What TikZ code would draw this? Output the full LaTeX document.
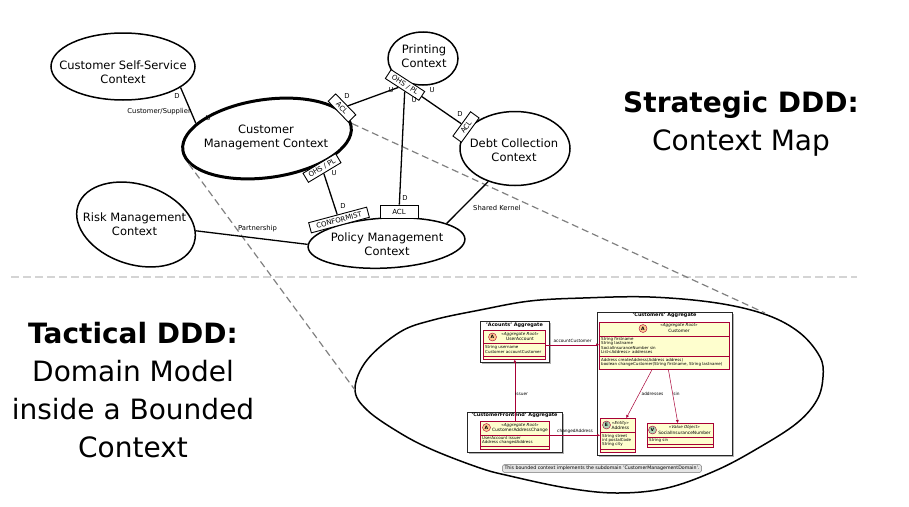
\documentclass[tikz,border=0pt]{standalone}
\usepackage{fontspec}
\setmainfont{DejaVu Sans}
\usetikzlibrary{calc,arrows.meta,shapes.geometric}
\definecolor{umlred}{HTML}{A80036}
\definecolor{umlfill}{HTML}{FEFECE}
\definecolor{spotA}{HTML}{FDC98F}
\definecolor{spotE}{HTML}{ADD1B2}
\begin{document}
\begin{tikzpicture}[x=1pt,y=-1pt,
  ctx/.style={ellipse, draw, line width=1.5pt, inner sep=0pt},
  ctxtext/.style={align=center, inner sep=0pt, font=\fontsize{11.5}{14}\selectfont},
  relbox/.style={draw, fill=white, line width=0.9pt, inner sep=0.5pt, minimum height=10.5, font=\fontsize{7}{8}\selectfont},
  rel/.style={line width=1.3pt},
  lbl/.style={inner sep=0pt, font=\fontsize{6.8}{8}\selectfont},
  zoomline/.style={draw=black!50, line width=1.2pt, dash pattern=on 7pt off 4pt},
  sepline/.style={draw=black!17, line width=1.6pt, dash pattern=on 8pt off 4pt},
  pkgline/.style={draw=black!85, line width=0.6pt, fill=white},
  pkgshadow/.style={fill=black!30},
  pkgtitle/.style={inner sep=0pt, font=\bfseries\fontsize{4.9}{5}\selectfont},
  cls/.style={rectangle, draw=umlred, fill=umlfill, line width=0.6pt, inner sep=0pt, anchor=north west},
  clssep/.style={draw=umlred, line width=0.5pt},
  spot/.style={circle, draw=umlred, line width=0.4pt, minimum size=8, inner sep=0pt, font=\bfseries\fontsize{4.6}{5}\selectfont},
  stereo/.style={inner sep=0pt, font=\itshape\fontsize{4.1}{4.5}\selectfont},
  cname/.style={inner sep=0pt, font=\fontsize{4.4}{4.8}\selectfont},
  attr/.style={inner sep=0pt, anchor=west, font=\fontsize{4}{4.4}\selectfont},
  alabel/.style={inner sep=0pt, font=\fontsize{4.3}{4.6}\selectfont},
  assoc/.style={draw=umlred, line width=0.5pt, -{Triangle[length=3pt,width=2.6pt]}},
  note/.style={draw=black!55, fill=black!10, rounded corners=1.5pt, line width=0.5pt, inner xsep=2pt, inner ysep=1.6pt, font=\fontsize{4.7}{5}\selectfont},
  title/.style={align=center, inner sep=0pt, font=\fontsize{28}{38}\selectfont}
]
\useasboundingbox (0,0) rectangle (909,506);

% ---------- separator ----------
\coordinate (sepL) at (11,277);
\coordinate (sepR) at (857,277);
\draw[sepline] (sepL) -- (sepR);

% ---------- context ellipses ----------
\node[ctx, minimum width=144, minimum height=67] (ss) at (123,66.5) {};
\node[ctxtext] (sst) at (123,72) {Customer Self-Service\\Context};

\node[ctx, minimum width=70, minimum height=53] (pr) at (423,58.5) {};
\node[ctxtext] (prt) at (424,56) {Printing\\Context};

\node[ctx, line width=3pt, minimum width=170, minimum height=78, rotate=8] (cmc) at (267,138.5) {};
\node[ctxtext] (cmct) at (266,137) {Customer\\Management Context};

\node[ctx, minimum width=110, minimum height=74] (debt) at (515,148.5) {};
\node[ctxtext] (debtt) at (514,150) {Debt Collection\\Context};

\node[ctx, minimum width=122, minimum height=80, rotate=-18] (risk) at (136,224.5) {};
\node[ctxtext] (riskt) at (134.5,224) {Risk Management\\Context};

\node[ctx, minimum width=157, minimum height=50, rotate=3] (pol) at (386.5,243) {};
\node[ctxtext] (polt) at (387,244) {Policy Management\\Context};

% ---------- bounded context zoom ellipse ----------
\coordinate (zl) at (355,390);
\coordinate (zr) at (765,313);
\draw[line width=1.5pt] plot[smooth cycle, tension=0.6] coordinates {
  (355,389) (367,360) (400,332) (433,320) (480,310) (530,301) (583,298) (650,297)
  (717,303) (767,315) (800,333) (820,357) (823,377) (817,400) (797,423)
  (760,447) (717,470) (667,488) (617,493) (567,488) (510,476) (480,468) (433,450)
  (400,433) (367,410)};

% ---------- zoom lines ----------
\draw[zoomline] (cmc.190) -- (zl);
\draw[zoomline] (cmc.2) -- (zr);

% ---------- relation boxes ----------
\node[relbox, rotate=-46, minimum width=29] (cacl) at (342,108) {ACL};
\node[relbox, rotate=-33, minimum width=40] (pohs) at (405,85) {OHS / PL};
\node[relbox, rotate=54, minimum width=30] (dacl) at (466,127) {ACL};
\node[relbox, rotate=31, minimum width=38] (cohs) at (322,168) {OHS / PL};
\node[relbox, rotate=15, minimum width=60] (conf) at (339,220) {CONFORMIST};
\node[relbox, minimum width=38, minimum height=13] (placl) at (399,211.5) {ACL};

% ---------- relations ----------
\draw[rel] (ss.-20) -- (cmc.160);
\draw[rel] (cacl) -- (pohs);
\draw[rel] (pohs) -- (placl);
\draw[rel] (pohs) -- (dacl);
\draw[rel] (cohs) -- (conf);
\draw[rel] (debt.231) -- (pol.15);
\draw[rel] (risk.12) -- (pol.178);

% ---------- relation labels ----------
\node[lbl] (l1) at (177,96) {D};
\node[lbl] (l2) at (208,118) {U};
\node[lbl, anchor=east] (l3) at (191,112) {Customer/Supplier};
\node[lbl] (l4) at (347,96.5) {D};
\node[lbl] (l5) at (391,90) {U};
\node[lbl] (l6) at (414,100) {U};
\node[lbl] (l7) at (405,198) {D};
\node[lbl] (l8) at (432,90) {U};
\node[lbl] (l9) at (460,114) {D};
\node[lbl] (l10) at (334,173) {U};
\node[lbl] (l11) at (343,206) {D};
\node[lbl, anchor=west] (l12) at (473,208) {Shared Kernel};
\node[lbl] (l13) at (257.5,229) {Partnership};

% ---------- titles ----------
\node[title] (strat) at (741,124) {{\bfseries Strategic DDD:}\\Context Map};
\node[title] (tact) at (133,390) {{\bfseries Tactical DDD:}\\Domain Model\\inside a Bounded\\Context};

% ---------- packages ----------
\fill[pkgshadow] (482,323) rectangle (551,364);
\draw[pkgline] (480,321) rectangle (549,362);
\node[pkgtitle] (p1t) at (514.5,325) {'Acounts' Aggregate};

\fill[pkgshadow] (599,314) rectangle (734,457);
\draw[pkgline] (597,312) rectangle (732,455);
\node[pkgtitle] (p2t) at (664.5,315.5) {'Customers' Aggregate};

\fill[pkgshadow] (469,414) rectangle (564,454);
\draw[pkgline] (467,412) rectangle (562,452);
\node[pkgtitle] (p3t) at (514.5,415.5) {'CustomerFrontend' Aggregate};

% ---------- UserAccount ----------
\node[cls, minimum width=62, minimum height=29] (ua) at (483,330) {};
\node[spot, fill=spotA] (uas) at (492.5,337) {A};
\node[stereo] (uast) at (520,334) {«Aggregate Root»};
\node[cname] (uan) at (520,339.2) {UserAccount};
\draw[clssep] (ua.west |- 0,343) -- (ua.east |- 0,343);
\node[attr] (uaa1) at (485,347.3) {String username};
\node[attr] (uaa2) at (485,351.8) {Customer accountCustomer};
\draw[clssep] (ua.west |- 0,356.3) -- (ua.east |- 0,356.3);

% ---------- Customer ----------
\node[cls, minimum width=130, minimum height=47] (cust) at (599,321.5) {};
\node[spot, fill=spotA] (cus) at (643,328.5) {A};
\node[stereo] (cust1) at (679,325.5) {«Aggregate Root»};
\node[cname] (cust2) at (679,331) {Customer};
\draw[clssep] (cust.west |- 0,336) -- (cust.east |- 0,336);
\node[attr] (cua1) at (601,339.2) {String firstname};
\node[attr] (cua2) at (601,343.4) {String lastname};
\node[attr] (cua3) at (601,347.6) {SocialInsuranceNumber sin};
\node[attr] (cua4) at (601,351.8) {List<Address> addresses};
\draw[clssep] (cust.west |- 0,356.3) -- (cust.east |- 0,356.3);
\node[attr] (cum1) at (601,360) {Address createAddress(Address address)};
\node[attr] (cum2) at (601,364.3) {boolean changeCustomer(String firstname, String lastname)};

% ---------- CustomerAddressChange ----------
\node[cls, minimum width=69, minimum height=28] (cac) at (480,421) {};
\node[spot, fill=spotA] (cacs) at (486.5,427.5) {A};
\node[stereo] (cact1) at (520,425) {«Aggregate Root»};
\node[cname] (cact2) at (520,430) {CustomerAddressChange};
\draw[clssep] (cac.west |- 0,435) -- (cac.east |- 0,435);
\node[attr] (caca1) at (482,438) {UserAccount issuer};
\node[attr] (caca2) at (482,442.5) {Address changedAddress};
\draw[clssep] (cac.west |- 0,446.5) -- (cac.east |- 0,446.5);

% ---------- Address ----------
\node[cls, minimum width=35, minimum height=34] (addr) at (600,418) {};
\node[spot, fill=spotE] (adds) at (606.5,425) {E};
\node[stereo] (addt1) at (620.5,423) {«Entity»};
\node[cname] (addt2) at (620.5,427.7) {Address};
\draw[clssep] (addr.west |- 0,432.5) -- (addr.east |- 0,432.5);
\node[attr] (adda1) at (602,436) {String street};
\node[attr] (adda2) at (602,440.3) {int postalCode};
\node[attr] (adda3) at (602,444.6) {String city};
\draw[clssep] (addr.west |- 0,449) -- (addr.east |- 0,449);

% ---------- SocialInsuranceNumber ----------
\node[cls, minimum width=66, minimum height=24] (sinvo) at (646.5,423) {};
\node[spot, fill=spotE] (sins) at (652.5,430) {V};
\node[stereo] (sint1) at (684.5,427.3) {«Value Object»};
\node[cname] (sint2) at (684.5,432.6) {SocialInsuranceNumber};
\draw[clssep] (sinvo.west |- 0,437) -- (sinvo.east |- 0,437);
\node[attr] (sina1) at (649,440.5) {String sin};
\draw[clssep] (sinvo.west |- 0,444) -- (sinvo.east |- 0,444);

% ---------- associations ----------
\draw[assoc] (ua.east) -- (ua.east -| cust.west);
\node[alabel] (al1) at (572.5,341) {accountCustomer};
\draw[assoc] (cac.north) -- (cac.north |- ua.south);
\node[alabel] (al2) at (521.5,394) {issuer};
\draw[assoc] (cac.east) -- (cac.east -| addr.west);
\node[alabel] (al3) at (575,431.5) {changedAddress};
\draw[assoc] ($(cust.south)+(-12,0)$) -- ($(addr.north)+(8.5,0)$);
\node[alabel] (al4) at (652.5,394) {addresses};
\draw[assoc] ($(cust.south)+(4,0)$) -- ($(sinvo.north)+(-2,0)$);
\node[alabel] (al5) at (676.5,394) {sin};

% ---------- note ----------
\node[note] (nt) at (602,468.5) {This bounded context implements the subdomain 'CustomerManagementDomain'.};
\end{tikzpicture}
\end{document}
